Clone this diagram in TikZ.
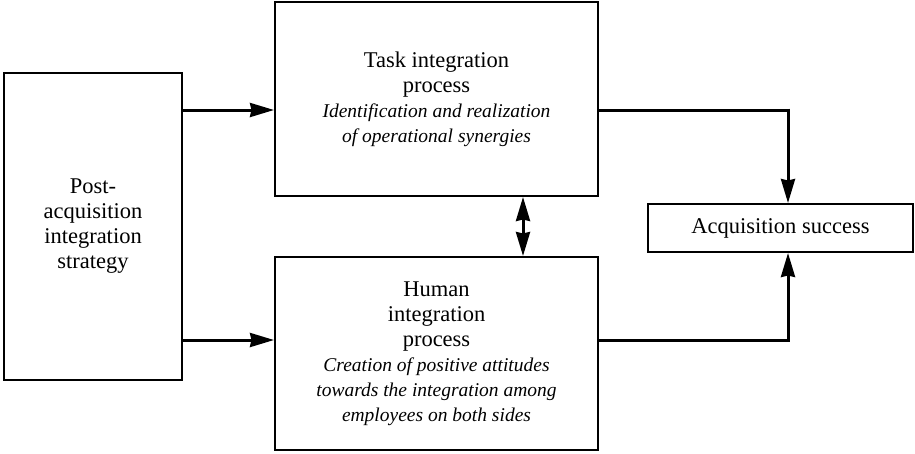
\documentclass[tikz,border=0pt]{standalone}
\usepackage{fontspec}
\setmainfont{Liberation Serif}
\usetikzlibrary{arrows.meta}
\newcommand{\subtxt}[1]{{\fontsize{19.5}{25}\selectfont\itshape #1}}
\begin{document}
\begin{tikzpicture}[x=1pt,y=-1pt,
  box/.style={draw=black, line width=2pt, rectangle, inner sep=0pt, align=center,
    font=\fontsize{22.5}{25}\selectfont},
  arr/.style={line width=3pt, -{Stealth[length=24pt,width=14pt,inset=1.5pt]}},
  darr/.style={line width=3pt, {Stealth[length=24pt,width=14pt,inset=1.5pt]}-{Stealth[length=24pt,width=14pt,inset=1.5pt]}},
  lnk/.style={line width=3pt}]
\useasboundingbox (0,0) rectangle (915,453);

% strategy box
\node[box, minimum width=178pt, minimum height=307pt] (strat) at (93,226.5)
  {Post-\\acquisition\\integration\\strategy};

% task integration
\node[box, minimum width=323pt, minimum height=194pt] (task) at (436.5,99)
  {Task integration\\process\\\subtxt{Identification and realization}\\\subtxt{of operational synergies}};

% human integration
\node[box, minimum width=323pt, minimum height=193pt] (human) at (436.5,353.5)
  {Human\\integration\\process\\\subtxt{Creation of positive attitudes}\\\subtxt{towards the integration among}\\\subtxt{employees on both sides}};

% outcome
\node[box, minimum width=265pt, minimum height=48pt] (succ) at (780.5,228)
  {Acquisition success};

\coordinate (jt) at (788,110);
\coordinate (jh) at (788,340);

\draw[arr] (strat.east |- jt) -- (task.west |- jt);
\draw[arr] (strat.east |- jh) -- (human.west |- jh);
\draw[darr] (523,0 |- task.south) -- (523,0 |- human.north);
\draw[lnk] (task.east |- jt) -- (jt);
\draw[arr] ([yshift=1.5pt]jt) -- (jt |- succ.north);
\draw[lnk] (human.east |- jh) -- (jh);
\draw[arr] ([yshift=-1.5pt]jh) -- (jh |- succ.south);
\end{tikzpicture}
\end{document}
